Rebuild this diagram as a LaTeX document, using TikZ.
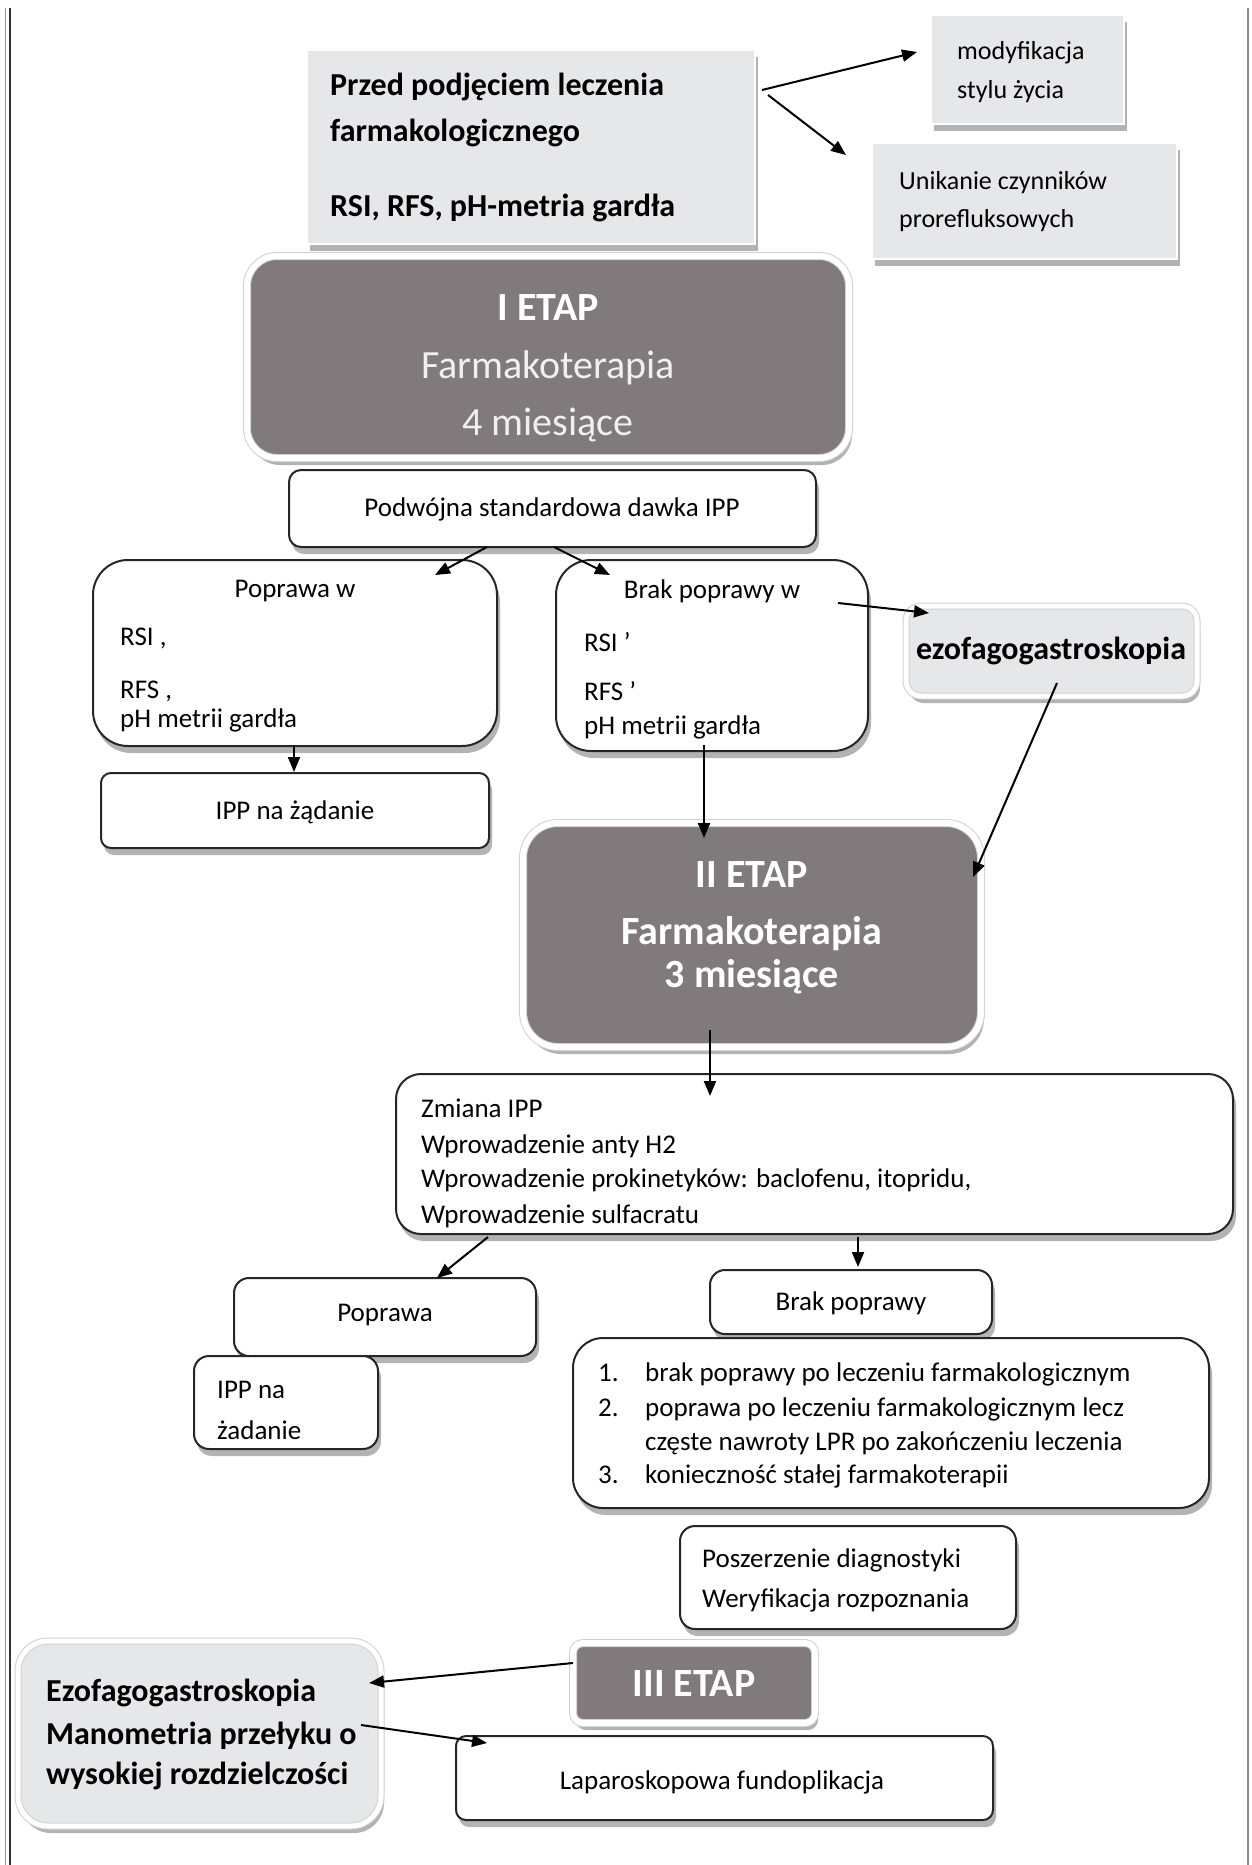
\documentclass[tikz,border=0pt]{standalone}
\usepackage{fontspec}
\setmainfont{Carlito}
\usetikzlibrary{shadows,arrows.meta,fit}
\definecolor{lgray}{HTML}{E6E7E8}
\definecolor{dgray}{HTML}{807A7C}
\begin{document}
\begin{tikzpicture}[x=1pt,y=-1pt,
 sh/.style={drop shadow={shadow xshift=3pt,shadow yshift=-7pt,opacity=0.4,fill=black!75}},
 bx/.style={inner sep=0pt,outer sep=0pt},
 wbox/.style={bx,draw=black!85,line width=2pt,fill=white,sh},
 gbox/.style={bx,fill=lgray,draw=white,line width=1.5pt,sh},
 gboxw/.style={bx,fill=lgray,draw=black!18,line width=1pt,double=white,double distance=5pt,sh},
 dbox/.style={bx,fill=dgray,draw=black!18,line width=1pt,double=white,double distance=6pt,sh},
 t/.style={inner sep=0pt,yshift=-7pt,font=\fontsize{27}{32}\selectfont},
 ts/.style={inner sep=0pt,yshift=-7pt,font=\fontsize{26}{31}\selectfont},
 tb/.style={inner sep=0pt,yshift=-7pt,font=\fontsize{32}{38}\selectfont\bfseries},
 te/.style={inner sep=0pt,yshift=-11pt,text=white,font=\fontsize{40}{48}\selectfont\bfseries},
 ter/.style={inner sep=0pt,yshift=-11pt,text=white!94!black,font=\fontsize{40}{48}\selectfont},
 arr/.style={line width=2pt,-{Triangle[length=15pt,width=12pt]}},
 edge/.style={line width=2pt},
]
\useasboundingbox (0,0) rectangle (1251,1865);
% page edges
\coordinate (lt1) at (5.5,8); \coordinate (lb1) at (5.5,1865);
\coordinate (lt2) at (10,8); \coordinate (lb2) at (10,1865);
\coordinate (rt) at (1248,8); \coordinate (rb) at (1248,1865);
\draw[edge,black!40,line width=1.5pt] (lt1) -- (lb1);
\draw[edge,black!80] (lt2) -- (lb2);
\draw[edge,black!45,line width=2.5pt] (rt) -- (rb);

% boxes
\node[gbox,fit={(307,50)(755,244)}] (przed) {};
\node[gbox,fit={(931,15)(1124,124)}] (mody) {};
\node[gbox,fit={(872,143)(1177,259)}] (unik) {};
\node[dbox,rounded corners=30pt,fit={(247,256)(849,458)}] (etap1) {};
\node[wbox,rounded corners=12pt,fit={(289,470)(816,547)}] (podw) {};
\node[wbox,rounded corners=35pt,fit={(93,560)(497,746)}] (popw) {};
\node[wbox,rounded corners=35pt,fit={(556,560)(868,751)}] (brakw) {};
\node[gboxw,rounded corners=15pt,fit={(906,606)(1197,696)}] (ezo1) {};
\node[wbox,rounded corners=10pt,fit={(101,773)(489,848)}] (ipp1) {};
\node[dbox,rounded corners=35pt,fit={(523,823)(981,1047)}] (etap2) {};
\node[wbox,rounded corners=25pt,fit={(396,1074)(1233,1234)}] (zmiana) {};
\node[wbox,rounded corners=15pt,fit={(234,1278)(536,1356)}] (popr) {};
\node[wbox,rounded corners=15pt,fit={(710,1270)(992,1334)}] (brak) {};
\node[wbox,rounded corners=15pt,fit={(194,1356)(378,1449)}] (ipp2) {};
\node[wbox,rounded corners=30pt,fit={(573,1338)(1209,1508)}] (lista) {};
\node[wbox,rounded corners=15pt,fit={(680,1526)(1016,1629)}] (posz) {};
\node[dbox,rounded corners=10pt,fit={(573,1643)(815,1723)}] (etap3) {};
\node[gboxw,rounded corners=30pt,fit={(18,1641)(381,1826)}] (ezo2) {};
\node[wbox,rounded corners=10pt,fit={(456,1736)(993,1820)}] (lapa) {};

% texts
\node[tb,anchor=mid west] (p1) at (330,86) {Przed podjęciem leczenia};
\node[tb,anchor=mid west] (p2) at (330,132) {farmakologicznego};
\node[tb,anchor=mid west] (p3) at (330,207) {RSI, RFS, pH-metria gardła};
\node[ts,anchor=mid west] (m1) at (957,50) {modyfikacja};
\node[ts,anchor=mid west] (m2) at (957,89) {stylu życia};
\node[ts,anchor=mid west] (u1) at (899,180) {Unikanie czynników};
\node[ts,anchor=mid west] (u2) at (899,218) {prorefluksowych};
\node[te,anchor=mid] (e1a) at (548,307) {I ETAP};
\node[ter,anchor=mid] (e1b) at (548,365) {Farmakoterapia};
\node[ter,anchor=mid] (e1c) at (548,422) {4 miesiące};
\node[t,anchor=mid] (d1) at (552,507) {Podwójna standardowa dawka IPP};
\node[t,anchor=mid] (pw1) at (295,588) {Poprawa w};
\node[t,anchor=mid west] (pw2) at (120,636) {RSI ,};
\node[t,anchor=mid west] (pw3) at (120,689) {RFS ,};
\node[t,anchor=mid west] (pw4) at (120,718) {pH metrii gardła};
\node[t,anchor=mid] (bw1) at (712,589) {Brak poprawy w};
\node[t,anchor=mid west] (bw2) at (584,642) {RSI ’};
\node[t,anchor=mid west] (bw3) at (584,691) {RFS ’};
\node[t,anchor=mid west] (bw4) at (584,725) {pH metrii gardła};
\node[tb,anchor=mid] (ez1) at (1051,650) {ezofagogastroskopia};
\node[t,anchor=mid] (ip1) at (295,810) {IPP na żądanie};
\node[te,anchor=mid] (e2a) at (752,874) {II ETAP};
\node[te,anchor=mid] (e2b) at (752,931) {Farmakoterapia};
\node[te,anchor=mid] (e2c) at (752,974) {3 miesiące};
\node[t,anchor=mid west] (z1) at (421,1108) {Zmiana IPP};
\node[t,anchor=mid west] (z2) at (421,1144) {Wprowadzenie anty H2};
\node[t,anchor=mid west] (z3) at (421,1178) {Wprowadzenie prokinetyków: baclofenu, itopridu,};
\node[t,anchor=mid west] (z4) at (421,1214) {Wprowadzenie sulfacratu};
\node[t,anchor=mid] (pr1) at (385,1312) {Poprawa};
\node[t,anchor=mid] (bp1) at (851,1301) {Brak poprawy};
\node[t,anchor=mid west] (ipa) at (217,1389) {IPP na};
\node[t,anchor=mid west] (ipb) at (217,1430) {żadanie};
\node[t,anchor=mid west] (n1) at (598,1372) {1.};
\node[t,anchor=mid west] (l1) at (645,1372) {brak poprawy po leczeniu farmakologicznym};
\node[t,anchor=mid west] (n2) at (598,1407) {2.};
\node[t,anchor=mid west] (l2) at (645,1407) {poprawa po leczeniu farmakologicznym lecz};
\node[t,anchor=mid west] (l2b) at (645,1441) {częste nawroty LPR po zakończeniu leczenia};
\node[t,anchor=mid west] (n3) at (598,1474) {3.};
\node[t,anchor=mid west] (l3) at (645,1474) {konieczność stałej farmakoterapii};
\node[t,anchor=mid west] (ps1) at (702,1558) {Poszerzenie diagnostyki};
\node[t,anchor=mid west] (ps2) at (702,1598) {Weryfikacja rozpoznania};
\node[te,anchor=mid] (e3) at (694,1683) {III ETAP};
\node[tb,anchor=mid west] (ez2a) at (46,1692) {Ezofagogastroskopia};
\node[tb,anchor=mid west] (ez2b) at (46,1735) {Manometria przełyku o};
\node[tb,anchor=mid west] (ez2c) at (46,1775) {wysokiej rozdzielczości};
\node[t,anchor=mid] (lp) at (722,1780) {Laparoskopowa fundoplikacja};

% connectors
\draw[arr] ([shift={(7,40)}]przed.north east) -- ([shift={(-14,37)}]mody.north west);
\draw[arr] ([shift={(13,45)}]przed.north east) -- ([shift={(-26,12)}]unik.north west);
\draw[arr] ([shift={(-65.5,0)}]podw.south) -- ([shift={(-62,15)}]popw.north east);
\draw[arr] ([shift={(1.5,0)}]podw.south) -- ([shift={(54,15)}]brakw.north west);
\draw[arr] ([shift={(-1,0)}]popw.south) -- ([shift={(-1,-1)}]ipp1.north);
\draw[arr] ([shift={(-30,43)}]brakw.north east) -- ([shift={(23,7)}]ezo1.north west);
\draw[arr] ([shift={(-8,-6)}]brakw.south) -- ([shift={(-48,15)}]etap2.north);
\draw[arr] ([shift={(5.5,-13)}]ezo1.south) -- ([shift={(-8,54)}]etap2.north east);
\draw[arr] ([shift={(-42,-17)}]etap2.south) -- ([shift={(-104.5,22)}]zmiana.north);
\draw[arr] ([shift={(92,3)}]zmiana.south west) -- ([shift={(-99,0)}]popr.north east);
\draw[arr] ([shift={(462,3)}]zmiana.south west) -- ([shift={(7,-3)}]brak.north);
\draw[arr] ([shift={(0,-20)}]etap3.west) -- ([shift={(-12,-50.5)}]ezo2.east);
\draw[arr] ([shift={(-20,-8.5)}]ezo2.east) -- ([shift={(31,7)}]lapa.north west);
\end{tikzpicture}
\end{document}
